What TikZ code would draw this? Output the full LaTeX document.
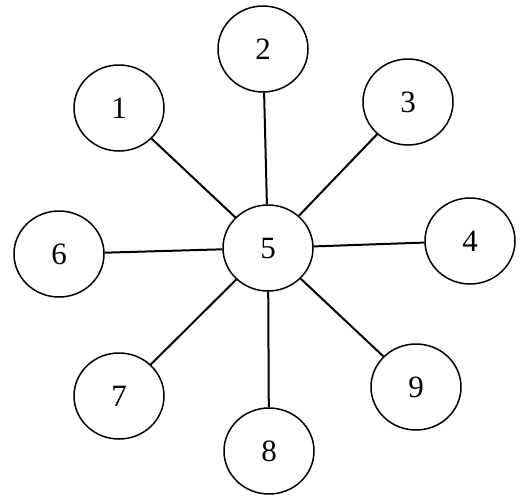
\documentclass[tikz,border=0pt]{standalone}
\usepackage{fontspec}
\setmainfont{Liberation Serif}
\usepackage{tikz}
\usetikzlibrary{shapes.geometric}
\tikzset{
  vertex/.style={ellipse, draw=black, line width=1.5pt,
                 minimum width=90pt, minimum height=86pt, inner sep=0pt,
                 font=\fontsize{31}{36}\selectfont},
  edge/.style={line width=2pt, draw=black},
}

\begin{document}
\begin{tikzpicture}[x=1pt, y=-1pt]
  \useasboundingbox (0,0) rectangle (532,498);
  \node[vertex] (v5) at (268,248) {5};
  \node[vertex] (v1) at (119,108) {1};
  \node[vertex] (v2) at (263,49)  {2};
  \node[vertex] (v3) at (408,102) {3};
  \node[vertex] (v4) at (470,241) {4};
  \node[vertex] (v6) at (59,254)  {6};
  \node[vertex] (v7) at (119,396) {7};
  \node[vertex] (v8) at (269,451) {8};
  \node[vertex] (v9) at (416,387) {9};
  \foreach \a in {v1, v2, v3, v4, v6, v7, v8, v9}
    \draw[edge] (v5) -- (\a);
\end{tikzpicture}
\end{document}
